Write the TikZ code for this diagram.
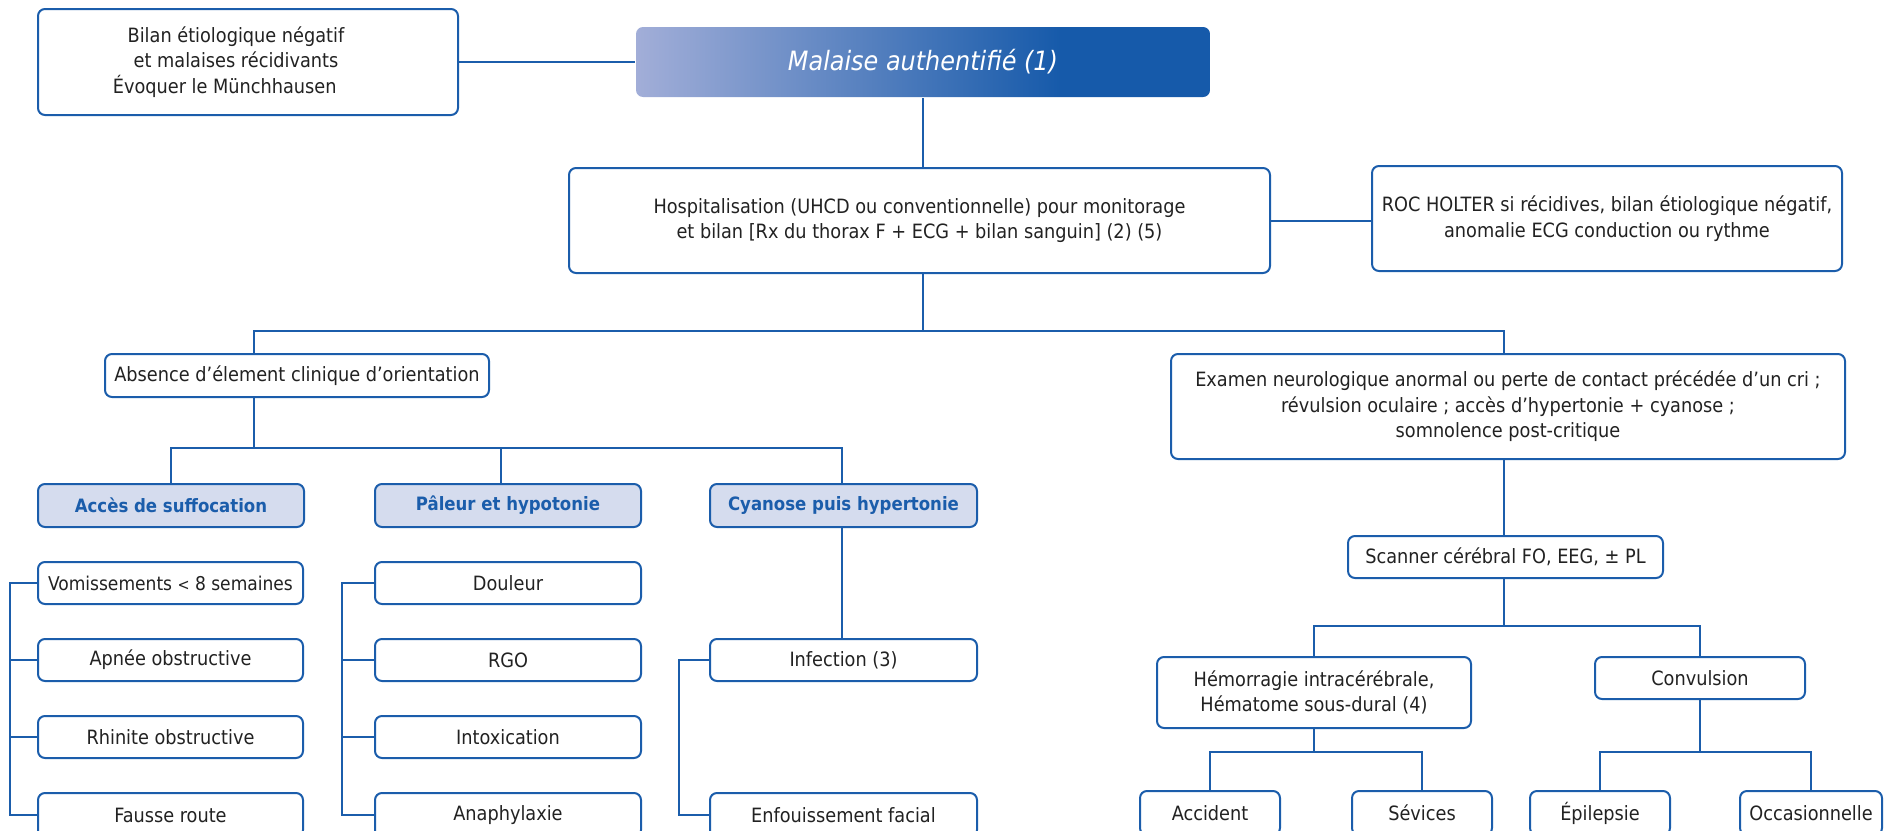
\documentclass[tikz,border=0pt]{standalone}
\usepackage{fontspec}
\setmainfont{DejaVu Sans Condensed}
\usetikzlibrary{calc}
\definecolor{lb}{HTML}{1B5DAB}
\definecolor{catfill}{HTML}{D5DCEE}
\definecolor{gL}{HTML}{A2AED8}
\definecolor{gR}{HTML}{165AAA}
\definecolor{tx}{HTML}{222222}
\pgfdeclarehorizontalshading{malgrad}{100bp}{color(0bp)=(gL); color(25bp)=(gL); color(62bp)=(gR); color(100bp)=(gR)}
\tikzset{
  box/.style={draw=lb, line width=1pt, rounded corners=3.5pt, fill=white, text=tx, align=center, inner sep=0pt, font=\fontsize{9.85}{12.8}\selectfont},
  cat/.style={box, fill=catfill, text=lb, font=\fontsize{9.2}{12.8}\selectfont\bfseries},
  conn/.style={draw=lb, line width=1pt},
  txt/.style={text=tx, align=center, inner sep=0pt, font=\fontsize{9.85}{12.8}\selectfont}
}
\newcommand\bx[7][]{%
  \node[box,#1,minimum width={(#5-#3)*0.5pt},minimum height={(#6-#4)*0.5pt}] (#2) at ({(#3+#5)/2},{(#4+#6)/2}) {#7};}
\begin{document}
\begin{tikzpicture}[x=0.5pt,y=-0.5pt]
\useasboundingbox (0,0) rectangle (1894,830);
% top
\bx{bilan}{38}{9}{458}{115}{}
\node[txt] (bilant) at (236,62) {Bilan étiologique négatif\\et malaises récidivants\\Évoquer le Münchhausen\phantom{nn}};
\bx[shading=malgrad, draw=none, text=white, font=\fontsize{13.3}{15}\selectfont\itshape]{mal}{636}{27}{1210}{97}{Malaise authentifié (1)}
\bx{hosp}{569}{168}{1270}{273}{Hospitalisation (UHCD ou conventionnelle) pour monitorage\\et bilan [Rx du thorax F + ECG + bilan sanguin] (2) (5)}
\bx{roc}{1372}{166}{1842}{271}{ROC HOLTER si récidives, bilan étiologique négatif,\\anomalie ECG conduction ou rythme}
% level 2
\bx{abs}{105}{354}{489}{397}{Absence d’élement clinique d’orientation}
\bx{exam}{1171}{354}{1845}{459}{Examen neurologique anormal ou perte de contact précédée d'un cri ;\\révulsion oculaire ; accès d'hypertonie + cyanose ;\\somnolence post-critique}
% categories
\bx[cat]{acc}{38}{484}{304}{527}{Accès de suffocation}
\bx[cat]{pal}{375}{484}{641}{527}{Pâleur et hypotonie}
\bx[cat]{cya}{710}{484}{977}{527}{Cyanose puis hypertonie}
% left list
\bx[font=\fontsize{9.5}{12.8}\selectfont]{vom}{38}{562}{303}{604}{Vomissements {\fontsize{8}{10}\selectfont<} 8 semaines}
\bx{apn}{38}{639}{303}{681}{Apnée obstructive}
\bx{rhi}{38}{716}{303}{758}{Rhinite obstructive}
\bx{fau}{38}{793}{303}{837}{Fausse route}
% middle list
\bx{dou}{375}{562}{641}{604}{Douleur}
\bx{rgo}{375}{639}{641}{681}{RGO}
\bx{int}{375}{716}{641}{758}{Intoxication}
\bx{ana}{375}{793}{641}{837}{Anaphylaxie}
% cyanose list
\bx{inf}{710}{639}{977}{681}{Infection (3)}
\bx{enf}{710}{793}{977}{837}{Enfouissement facial}
% right side
\bx{scan}{1348}{536}{1663}{578}{Scanner cérébral FO, EEG, ± PL}
\bx{hem}{1157}{657}{1471}{728}{Hémorragie intracérébrale,\\Hématome sous-dural (4)}
\bx{conv}{1595}{657}{1805}{699}{Convulsion}
\bx{accd}{1140}{791}{1280}{835}{Accident}
\bx{sev}{1352}{791}{1492}{835}{Sévices}
\bx{epi}{1530}{791}{1670}{835}{Épilepsie}
\bx{occ}{1740}{791}{1882}{835}{Occasionnelle}
% connectors
\draw[conn] (bilan.east) -- (mal.west);
\draw[conn] (mal.south) -- (mal.south |- hosp.north);
\draw[conn] (hosp.east) -- (hosp.east -| roc.west);
\coordinate (j1) at (923,331);
\coordinate (jL) at (254,331);
\coordinate (jR) at (1504,331);
\draw[conn] (j1 |- hosp.south) -- (j1);
\draw[conn] (jL |- abs.north) -- (jL) -- (jR) -- (jR |- exam.north);
\coordinate (j2) at (254,448);
\coordinate (c1) at (171,448);
\coordinate (c2) at (501,448);
\coordinate (c3) at (842,448);
\draw[conn] (j2 |- abs.south) -- (j2);
\draw[conn] (c1 |- acc.north) -- (c1) -- (c3) -- (c3 |- cya.north);
\draw[conn] (c2) -- (c2 |- pal.north);
\draw[conn] (c3 |- cya.south) -- (c3 |- inf.north);
% brackets
\coordinate (b1) at (10,0);
\coordinate (b2) at (342,0);
\coordinate (b3) at (679,0);
\draw[conn] (vom.west) -- (b1 |- vom.west) -- (b1 |- fau.west) -- (fau.west);
\draw[conn] (apn.west) -- (b1 |- apn.west);
\draw[conn] (rhi.west) -- (b1 |- rhi.west);
\draw[conn] (dou.west) -- (b2 |- dou.west) -- (b2 |- ana.west) -- (ana.west);
\draw[conn] (rgo.west) -- (b2 |- rgo.west);
\draw[conn] (int.west) -- (b2 |- int.west);
\draw[conn] (inf.west) -- (b3 |- inf.west) -- (b3 |- enf.west) -- (enf.west);
% right connectors
\draw[conn] (jR |- exam.south) -- (jR |- scan.north);
\coordinate (k1) at (1504,626);
\draw[conn] (k1 |- scan.south) -- (k1);
\draw[conn] (hem.north) |- (k1) -| (conv.north);
\coordinate (h1) at (1314,752);
\coordinate (h2) at (1700,752);
\draw[conn] (hem.south) -- (hem.south |- h1);
\draw[conn] (accd.north) |- (h1) -| (sev.north);
\draw[conn] (conv.south) -- (conv.south |- h2);
\draw[conn] (epi.north) |- (h2) -| (occ.north);
\end{tikzpicture}
\end{document}
